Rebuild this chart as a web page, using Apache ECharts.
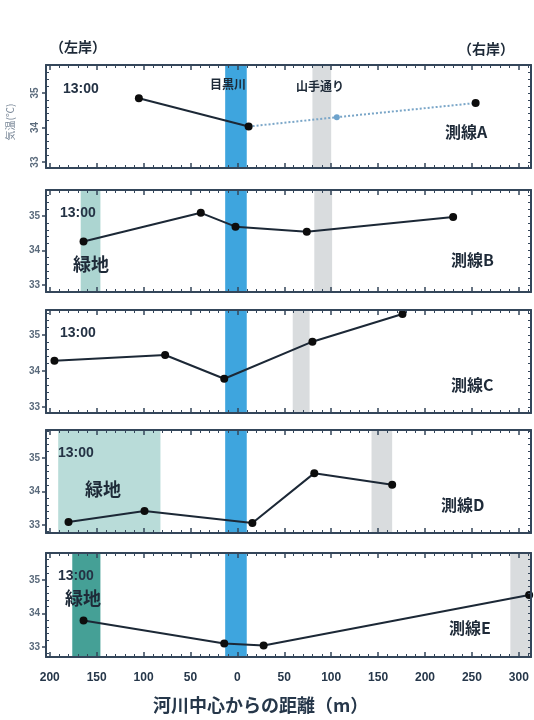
<!DOCTYPE html>
<html>
<head>
<meta charset="utf-8">
<script src="https://cdn.jsdelivr.net/npm/echarts@6/dist/echarts.min.js"></script>
<style>
  html, body { margin: 0; padding: 0; background: #ffffff; }
  #chart { width: 534px; height: 720px; }
</style>
</head>
<body>
<div id="chart"></div>
<script>
// Distance from the river centre (m): left bank negative, right bank positive
const xTickValues = [-200, -150, -100, -50, 0, 50, 100, 150, 200, 250, 300];
const xTickLabels = ['200', '150', '100', '50', '0', '50', '100', '150', '200', '250', '300'];
const yTickValues = [33, 34, 35];

// Air temperature (°C) at 13:00 along each survey line
const distA = [-105, 12];
const tempA = [34.85, 34.03];
const distA2 = [12, 106, 254];          // dotted continuation on line A
const tempA2 = [34.03, 34.30, 34.71];
const distB = [-164, -39, -2, 74, 230];
const tempB = [34.26, 35.09, 34.69, 34.54, 34.97];
const distC = [-195, -77, -14, 80, 176];
const tempC = [34.28, 34.44, 33.78, 34.81, 35.58];
const distD = [-180, -99, 16, 82, 165];
const tempD = [33.09, 33.42, 33.06, 34.55, 34.20];
const distE = [-164, -14, 28, 311];
const tempE = [33.79, 33.10, 33.04, 34.55];

const lineNames = ['測線A', '測線B', '測線C', '測線D', '測線E'];

// Extents of the river (目黒川), the road (山手通り) and the green areas (緑地)
const riverBand = [-13, 10];
const roadBands = [[80, 100], [82, 101], [59, 77], [143, 165], [291, 314]];
const greenBands = [null, [-167, -146], null, [-191, -82], [-176, -146]];

const XMIN = -204, XMAX = 313;
const FRAME = '#34465a';
const panelTops = [65, 190, 310, 430, 553];
const panelHeights = [103, 102, 103, 103, 104];
const yRanges = [[32.83, 35.81], [32.80, 35.75], [32.83, 35.69], [32.76, 35.84], [32.70, 35.80]];
const greenColors = [null, '#acd5d1', null, '#b9dcd9', '#45a096'];

const pairs = (xs, ys) => xs.map((x, i) => [x, ys[i]]);
const panelData = [
  pairs(distA, tempA), pairs(distB, tempB), pairs(distC, tempC),
  pairs(distD, tempD), pairs(distE, tempE)
];

const xMinor = [];
for (let v = -200; v <= 310; v += 10) if (v % 50 !== 0) xMinor.push(v);

const grids = [], xAxes = [], yAxes = [], series = [];

panelTops.forEach((top, i) => {
  grids.push({ left: 46, right: 3, top: top, height: panelHeights[i] });
  const [ymin, ymax] = yRanges[i];
  const yMinor = [];
  for (let k = 1; k < 40; k++) {
    const v = Math.round((32 + k * 0.2) * 10) / 10;
    if (v > ymin && v < ymax && !yTickValues.includes(v)) yMinor.push(v);
  }
  const xBase = { gridIndex: i, type: 'value', min: XMIN, max: XMAX, splitLine: { show: false }, z: 5 };
  // bottom frame with major ticks (labels only on the last panel)
  xAxes.push(Object.assign({}, xBase, {
    position: 'bottom',
    axisLine: { show: true, onZero: false, lineStyle: { color: FRAME, width: 2 } },
    axisTick: { show: true, inside: true, length: 5, customValues: xTickValues, lineStyle: { color: FRAME, width: 1.5 } },
    axisLabel: {
      show: i === 4, customValues: xTickValues, margin: 15,
      formatter: v => xTickLabels[xTickValues.indexOf(v)],
      fontSize: 12, fontWeight: 'bold', color: '#26374a', fontFamily: 'Liberation Sans'
    }
  }));
  // bottom minor ticks
  xAxes.push(Object.assign({}, xBase, {
    position: 'bottom',
    axisLine: { show: false, onZero: false },
    axisTick: { show: true, inside: true, length: 3, customValues: xMinor, lineStyle: { color: FRAME, width: 1 } },
    axisLabel: { show: false }
  }));
  // top frame
  xAxes.push(Object.assign({}, xBase, {
    position: 'top',
    axisLine: { show: true, onZero: false, lineStyle: { color: FRAME, width: 2 } },
    axisTick: { show: true, inside: true, length: 5, customValues: xTickValues, lineStyle: { color: FRAME, width: 1.5 } },
    axisLabel: { show: false }
  }));
  xAxes.push(Object.assign({}, xBase, {
    position: 'top',
    axisLine: { show: false, onZero: false },
    axisTick: { show: true, inside: true, length: 3, customValues: xMinor, lineStyle: { color: FRAME, width: 1 } },
    axisLabel: { show: false }
  }));

  const yBase = { gridIndex: i, type: 'value', min: ymin, max: ymax, splitLine: { show: false }, z: 5 };
  yAxes.push(Object.assign({}, yBase, {
    position: 'left',
    axisLine: { show: true, onZero: false, lineStyle: { color: FRAME, width: 2 } },
    axisTick: { show: true, inside: false, length: 4, customValues: yTickValues, lineStyle: { color: FRAME, width: 1.5 } },
    axisLabel: {
      show: true, customValues: yTickValues, margin: 6, fontSize: 10, fontWeight: 'bold',
      color: '#5b6b7c', fontFamily: 'Liberation Sans', rotate: i === 0 ? 90 : 0
    }
  }));
  yAxes.push(Object.assign({}, yBase, {
    position: 'left',
    axisLine: { show: false, onZero: false },
    axisTick: { show: true, inside: true, length: 3, customValues: yMinor, lineStyle: { color: FRAME, width: 1 } },
    axisLabel: { show: false }
  }));
  yAxes.push(Object.assign({}, yBase, {
    position: 'right',
    axisLine: { show: true, onZero: false, lineStyle: { color: FRAME, width: 2 } },
    axisTick: { show: true, inside: true, length: 3, customValues: yMinor.concat(yTickValues), lineStyle: { color: FRAME, width: 1 } },
    axisLabel: { show: false }
  }));

  const xi = i * 4, yi = i * 3;
  const bands = [];
  if (greenBands[i]) bands.push([{ xAxis: greenBands[i][0], itemStyle: { color: greenColors[i] } }, { xAxis: greenBands[i][1] }]);
  bands.push([{ xAxis: roadBands[i][0], itemStyle: { color: '#d9dcde' } }, { xAxis: roadBands[i][1] }]);
  bands.push([{ xAxis: riverBand[0], itemStyle: { color: '#3ea5de' } }, { xAxis: riverBand[1] }]);
  series.push({
    type: 'line', xAxisIndex: xi, yAxisIndex: yi, data: [], z: 1, silent: true,
    markArea: { silent: true, data: bands }
  });

  series.push({
    name: lineNames[i], type: 'line', xAxisIndex: xi, yAxisIndex: yi, z: 4,
    data: panelData[i], symbol: 'circle', symbolSize: 8,
    lineStyle: { color: '#1c2836', width: 2 }, itemStyle: { color: '#0d0d0d' },
    animation: false
  });
});

// dotted continuation of line A
series.push({
  type: 'line', xAxisIndex: 0, yAxisIndex: 0, z: 3, animation: false,
  data: pairs(distA2, tempA2).map((p, k) => ({
    value: p,
    symbolSize: k === 1 ? 6 : (k === 2 ? 8 : 0),
    itemStyle: { color: k === 1 ? '#6ea3cc' : '#0d0d0d' }
  })),
  symbol: 'circle',
  lineStyle: { color: '#7aa6c8', width: 2, type: 'dotted' }
});

const txt = (left, top, text, size, extra) => ({
  type: 'text', left: left, top: top, z: 10,
  style: Object.assign({ text: text, fontSize: size, fill: '#1e2a38', fontWeight: 'bold', fontFamily: 'Noto Sans CJK JP' }, extra || {})
});

const graphics = [
  txt(50, 40, '（左岸）', 14),
  txt(458, 42, '（右岸）', 14),
  txt(153, 696, '河川中心からの距離（m）', 18, { fill: '#26374a' }),
  txt(210, 78, '目黒川', 12),
  txt(296, 80, '山手通り', 12),
  {
    type: 'text', x: 10, y: 122, rotation: Math.PI / 2, z: 10,
    style: { text: '気温(℃)', fontSize: 10, fill: '#7a8898', fontFamily: 'Noto Sans CJK JP', align: 'center', verticalAlign: 'middle' }
  }
];
const timeTops = [82, 206, 326, 446, 569];
const timeLefts = [63, 60, 60, 58, 58];
timeTops.forEach((t, i) => graphics.push(txt(timeLefts[i], t, '13:00', 14, { fontFamily: 'Liberation Sans', fill: '#243244' })));
const nameLefts = [445, 451, 451, 441, 449];
const nameTops = [124, 252, 377, 497, 620];
lineNames.forEach((n, i) => graphics.push(txt(nameLefts[i], nameTops[i], n, 16)));
graphics.push(txt(73, 255, '緑地', 18));
graphics.push(txt(85, 480, '緑地', 18));
graphics.push(txt(65, 589, '緑地', 18));

const chart = echarts.init(document.getElementById('chart'), null, { renderer: 'canvas' });
chart.setOption({
  animation: false,
  backgroundColor: '#ffffff',
  grid: grids,
  xAxis: xAxes,
  yAxis: yAxes,
  series: series,
  graphic: graphics
});
</script>
</body>
</html>
